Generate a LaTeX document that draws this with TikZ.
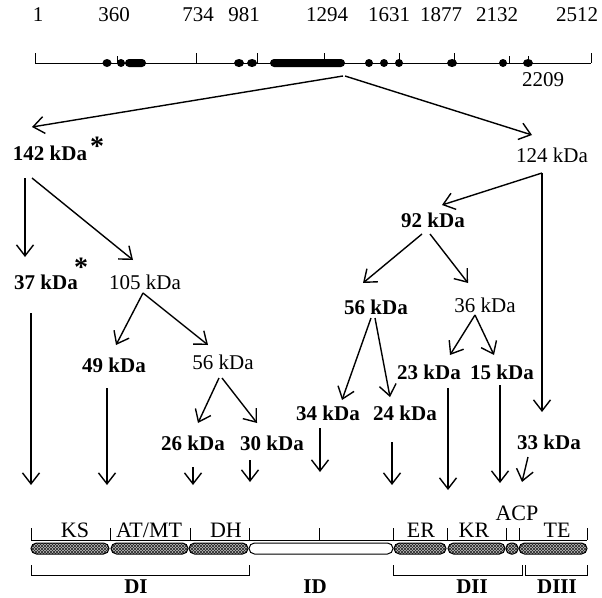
\documentclass[tikz,border=0pt]{standalone}
\usepackage{fontspec}
\setmainfont{Liberation Serif}
\usetikzlibrary{arrows.meta,patterns}
\begin{document}
\begin{tikzpicture}[x=1pt,y=-1pt,
  kb/.style={inner sep=0pt, font=\fontsize{21}{24}\selectfont\bfseries},
  kr/.style={inner sep=0pt, font=\fontsize{21}{24}\selectfont},
  num/.style={inner sep=0pt, font=\fontsize{21}{24}\selectfont},
  ast/.style={inner sep=0pt, anchor=north, font=\fontsize{28}{28}\selectfont\bfseries},
  dom/.style={inner sep=0pt, anchor=base, font=\fontsize{22}{24}\selectfont},
  grp/.style={inner sep=0pt, anchor=base, font=\fontsize{21}{24}\selectfont\bfseries},
  conn/.style={line width=1.4pt, -{Straight Barb[length=11pt,width=17pt,line width=1.4pt]}},
  bar/.style={line width=1pt},
  hatch/.style={draw=black, line width=1pt, rounded corners=5.5pt,
     preaction={fill=black!25},
     preaction={pattern=north east lines, pattern color=black!85},
     pattern=north west lines, pattern color=black!85},
  plain/.style={draw=black, line width=1pt, rounded corners=5.5pt, fill=white},
  blob/.style={fill=black}
]
\useasboundingbox (0,0) rectangle (602,597);

% ---------- top scale ----------
\draw[bar] (35,63) -- (591,63);
\foreach \x in {35,196,257,324,399,454,591} \draw[bar] (\x,53) -- (\x,63);
\foreach \x in {117,509,528} \draw[bar] (\x,56) -- (\x,63);
\fill[blob] (107,63) ellipse (4.5 and 4);
\fill[blob] (121,63) ellipse (4 and 4);
\fill[blob, rounded corners=4pt] (125,59) rectangle (146,67);
\fill[blob] (239,63) ellipse (5 and 4);
\fill[blob] (252,63) ellipse (5 and 4);
\fill[blob, rounded corners=4pt] (270,59) rectangle (345,67);
\fill[blob] (369,63) ellipse (4 and 4);
\fill[blob] (384,63) ellipse (4 and 4);
\fill[blob] (399,63) ellipse (4 and 4);
\fill[blob] (452,63) ellipse (5 and 4);
\fill[blob] (503,63) ellipse (4 and 4);
\fill[blob] (528,63) ellipse (5 and 4);

\node[num] (t1) at (38,15) {1};
\node[num] (t360) at (114,15) {360};
\node[num] (t734) at (198,15) {734};
\node[num] (t981) at (244,15) {981};
\node[num] (t1294) at (327,15) {1294};
\node[num] (t1631) at (389,15) {1631};
\node[num] (t1877) at (441,15) {1877};
\node[num] (t2132) at (497,15) {2132};
\node[num] (t2512) at (577,15) {2512};
\node[num] (t2209) at (543,80) {2209};

% ---------- labels ----------
\node[kb] (k142) at (50,153) {142 kDa};
\node[ast] (a142) at (97,137) {*};
\node[kr] (k124) at (552,155) {124 kDa};
\node[kb] (k92) at (433,220) {92 kDa};
\node[kb] (k37) at (46,282) {37 kDa};
\node[ast] (a37) at (81,258) {*};
\node[kr] (k105) at (145,282) {105 kDa};
\node[kb] (k56a) at (376,307) {56 kDa};
\node[kr] (k36) at (485,305) {36 kDa};
\node[kb] (k49) at (114,365) {49 kDa};
\node[kr] (k56b) at (223,362) {56 kDa};
\node[kb] (k23) at (429,372) {23 kDa};
\node[kb] (k15) at (502,372) {15 kDa};
\node[kb] (k34) at (328,413) {34 kDa};
\node[kb] (k24) at (405,413) {24 kDa};
\node[kb] (k26) at (193,443) {26 kDa};
\node[kb] (k30) at (272,443) {30 kDa};
\node[kb] (k33) at (549,442) {33 kDa};

% ---------- connector coordinates ----------
\coordinate (sL) at (343,76);
\coordinate (sR) at (345,76);
\coordinate (e142) at (32,127);
\coordinate (e124) at (532,135);
\coordinate (s142a) at (25,178);
\coordinate (e37) at (25,257);
\coordinate (s142b) at (32,178);
\coordinate (e105) at (133,260);
\coordinate (s124) at (542,173);
\coordinate (e92) at (442,205);
\coordinate (e33v) at (542,412);
\coordinate (s92a) at (422,234);
\coordinate (s92b) at (430,234);
\coordinate (e56a) at (363,283);
\coordinate (e36) at (468,283);
\coordinate (s105) at (143,293);
\coordinate (e49) at (116,345);
\coordinate (e56b) at (208,345);
\coordinate (s56aL) at (371,318);
\coordinate (s56aR) at (375,318);
\coordinate (e34) at (342,400);
\coordinate (e24) at (390,397);
\coordinate (s36) at (475,315);
\coordinate (e23) at (450,355);
\coordinate (e15) at (494,355);
\coordinate (s56bL) at (219,378);
\coordinate (s56bR) at (222,378);
\coordinate (e26) at (198,423);
\coordinate (e30) at (257,423);

\draw[conn] (sL) -- (e142);
\draw[conn] (sR) -- (e124);
\draw[conn] (s142a) -- (e37);
\draw[conn] (s142b) -- (e105);
\draw[conn] (s124) -- (e92);
\draw[conn] (s124) -- (e33v);
\draw[conn] (s92a) -- (e56a);
\draw[conn] (s92b) -- (e36);
\draw[conn] (s105) -- (e49);
\draw[conn] (s105) -- (e56b);
\draw[conn] (s56aL) -- (e34);
\draw[conn] (s56aR) -- (e24);
\draw[conn] (s36) -- (e23);
\draw[conn] (s36) -- (e15);
\draw[conn] (s56bL) -- (e26);
\draw[conn] (s56bR) -- (e30);

% long arrows to domain map
\coordinate (d37s) at (31,313);   \coordinate (d37e) at (31,485);
\coordinate (d49s) at (107,388);  \coordinate (d49e) at (107,485);
\coordinate (d26s) at (193,467);  \coordinate (d26e) at (193,485);
\coordinate (d30s) at (250,460);  \coordinate (d30e) at (250,482);
\coordinate (d34s) at (320,428);  \coordinate (d34e) at (320,472);
\coordinate (d24s) at (392,442);  \coordinate (d24e) at (392,485);
\coordinate (d23s) at (448,388);  \coordinate (d23e) at (448,490);
\coordinate (d15s) at (500,385);  \coordinate (d15e) at (500,483);
\coordinate (d33s) at (528,457);  \coordinate (d33e) at (522,482);
\draw[conn] (d37s) -- (d37e);
\draw[conn] (d49s) -- (d49e);
\draw[conn] (d26s) -- (d26e);
\draw[conn] (d30s) -- (d30e);
\draw[conn] (d34s) -- (d34e);
\draw[conn] (d24s) -- (d24e);
\draw[conn] (d23s) -- (d23e);
\draw[conn] (d15s) -- (d15e);
\draw[conn] (d33s) -- (d33e);

% ---------- domain map ----------
\draw[bar] (31,540) -- (587,540);
\foreach \x in {31,110,190,249,319,393,447,506,519,587} \draw[bar] (\x,528) -- (\x,540);

\path[hatch] (31,543) rectangle (109,554);
\path[hatch] (111,543) rectangle (188,554);
\path[hatch] (189,543) rectangle (248,554);
\path[plain] (249,543) rectangle (393,554);
\path[hatch] (394,543) rectangle (446,554);
\path[hatch] (448,543) rectangle (505,554);
\path[hatch, rounded corners=5pt] (506,543) rectangle (518,554);
\path[hatch] (519,543) rectangle (587,554);

\draw[bar] (31,565) -- (31,575) -- (249,575) -- (249,565);
\draw[bar] (393,565) -- (393,575) -- (522,575) -- (522,565);
\draw[bar] (525,565) -- (525,575) -- (587,575) -- (587,565);

\node[dom] (dKS) at (75,537) {KS};
\node[dom] (dAT) at (149,537) {AT/MT};
\node[dom] (dDH) at (226,537) {DH};
\node[dom] (dER) at (421,537) {ER};
\node[dom] (dKR) at (474,537) {KR};
\node[dom] (dACP) at (517,520) {ACP};
\node[dom] (dTE) at (557,537) {TE};

\node[grp] (gDI) at (136,593) {DI};
\node[grp] (gID) at (315,593) {ID};
\node[grp] (gDII) at (472,593) {DII};
\node[grp] (gDIII) at (557,593) {DIII};
\end{tikzpicture}
\end{document}
